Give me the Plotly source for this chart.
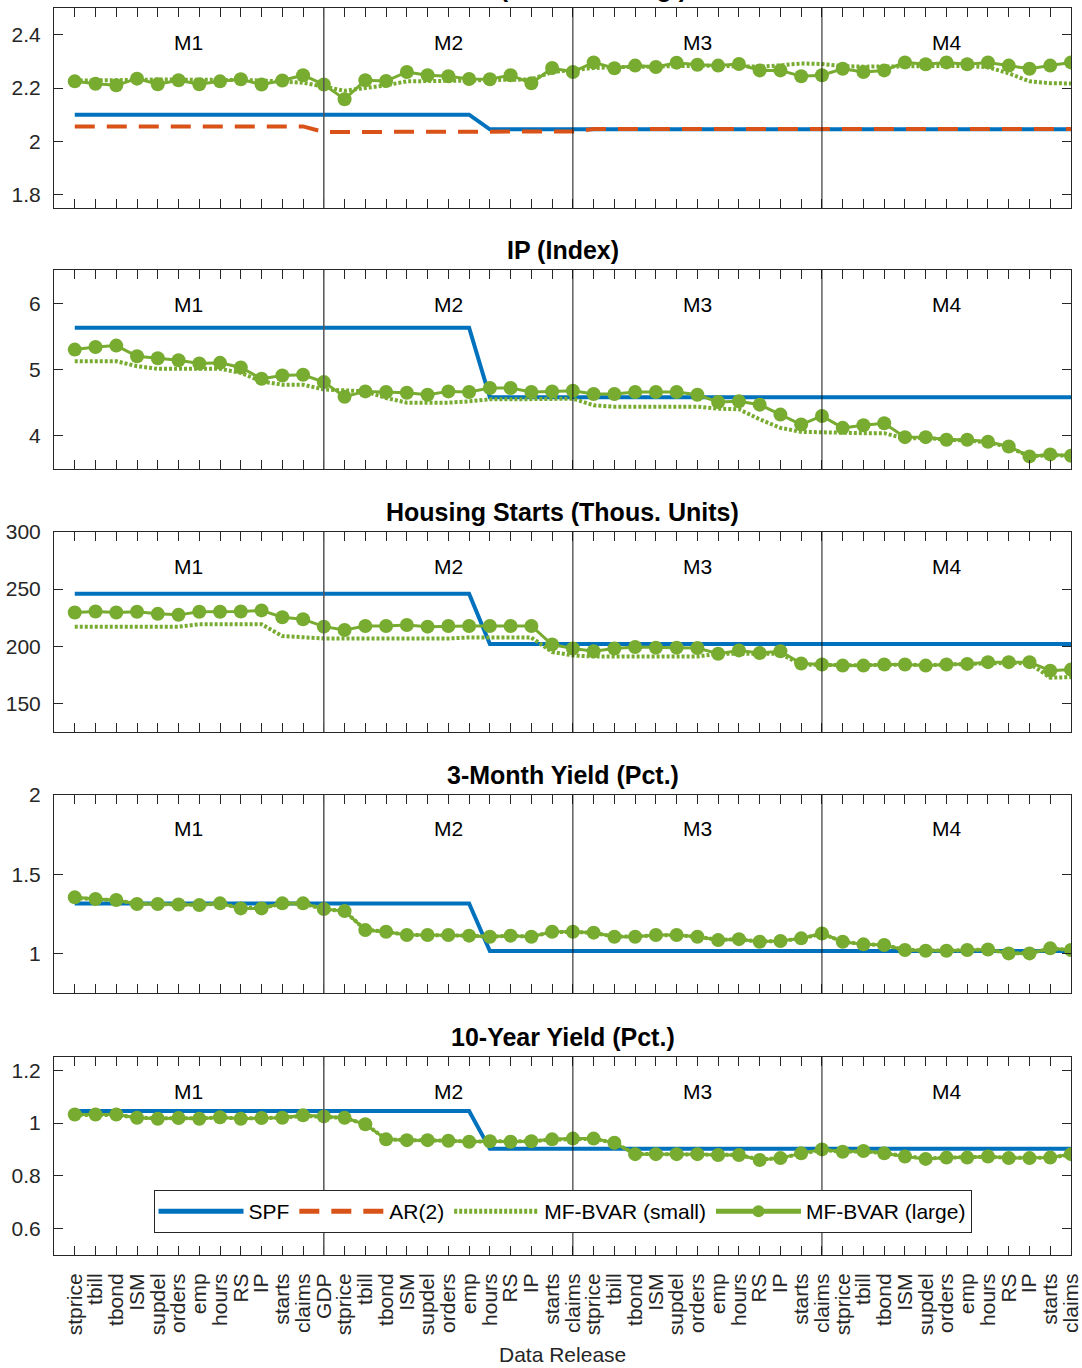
import plotly.graph_objects as go

# ---------------- data ----------------
block = ["stprice", "tbill", "tbond", "ISM", "supdel", "orders", "emp", "hours",
         "RS", "IP", "starts", "claims"]
releases = block + ["GDP"] + block + block + block
x_idx = list(range(len(releases)))

panel_titles = ["GDP (Ann. Pct. Chg.)", "IP (Index)", "Housing Starts (Thous. Units)",
                "3-Month Yield (Pct.)", "10-Year Yield (Pct.)"]
months = ["M1", "M2", "M3", "M4"]

# GDP
gdp_spf = [2.10, 2.10, 2.10, 2.10, 2.10, 2.10, 2.10, 2.10, 2.10, 2.10, 2.10, 2.10,
           2.10, 2.10, 2.10, 2.10, 2.10, 2.10, 2.10, 2.10, 2.045, 2.045, 2.045, 2.045,
           2.045, 2.045, 2.045, 2.045, 2.045, 2.045, 2.045, 2.045, 2.045, 2.045, 2.045, 2.045,
           2.045, 2.045, 2.045, 2.045, 2.045, 2.045, 2.045, 2.045, 2.045, 2.045, 2.045, 2.045, 2.045]
gdp_ar = [2.056, 2.056, 2.056, 2.056, 2.056, 2.056, 2.056, 2.056, 2.056, 2.056, 2.056, 2.056,
          2.035, 2.035, 2.035, 2.035, 2.035, 2.035, 2.035, 2.035, 2.035, 2.035, 2.035, 2.035,
          2.037, 2.046, 2.046, 2.046, 2.046, 2.046, 2.046, 2.046, 2.046, 2.046, 2.046, 2.046,
          2.046, 2.046, 2.046, 2.046, 2.046, 2.046, 2.046, 2.046, 2.046, 2.046, 2.046, 2.046, 2.046]
gdp_small = [2.228, 2.228, 2.228, 2.23, 2.232, 2.232, 2.232, 2.232, 2.23, 2.228, 2.225, 2.22,
             2.205, 2.19, 2.2, 2.21, 2.225, 2.225, 2.225, 2.228, 2.23, 2.232, 2.232, 2.26,
             2.268, 2.275, 2.278, 2.28, 2.282, 2.283, 2.283, 2.283, 2.282, 2.28, 2.285, 2.292,
             2.29, 2.282, 2.28, 2.28, 2.282, 2.283, 2.283, 2.283, 2.278, 2.255, 2.225, 2.218, 2.217]
gdp_large = [2.225, 2.216, 2.21, 2.235, 2.214, 2.229, 2.214, 2.225, 2.233, 2.213, 2.228, 2.248,
             2.213, 2.158, 2.229, 2.226, 2.26, 2.248, 2.244, 2.234, 2.233, 2.248, 2.218, 2.275,
             2.26, 2.296, 2.274, 2.284, 2.279, 2.295, 2.287, 2.284, 2.29, 2.266, 2.266, 2.244,
             2.248, 2.272, 2.26, 2.266, 2.296, 2.289, 2.296, 2.289, 2.296, 2.284, 2.272, 2.284, 2.296]

# IP
ip_spf = [5.63, 5.63, 5.63, 5.63, 5.63, 5.63, 5.63, 5.63, 5.63, 5.63, 5.63, 5.63,
          5.63, 5.63, 5.63, 5.63, 5.63, 5.63, 5.63, 5.63, 4.58, 4.58, 4.58, 4.58,
          4.58, 4.58, 4.58, 4.58, 4.58, 4.58, 4.58, 4.58, 4.58, 4.58, 4.58, 4.58,
          4.58, 4.58, 4.58, 4.58, 4.58, 4.58, 4.58, 4.58, 4.58, 4.58, 4.58, 4.58, 4.58]
ip_small = [5.125, 5.125, 5.125, 5.05, 5.01, 5.01, 5.01, 5.01, 4.95, 4.82, 4.77, 4.77,
            4.70, 4.69, 4.67, 4.57, 4.50, 4.50, 4.50, 4.52, 4.55, 4.55, 4.55, 4.55,
            4.56, 4.46, 4.44, 4.44, 4.44, 4.44, 4.44, 4.41, 4.40, 4.25, 4.12, 4.06,
            4.05, 4.04, 4.04, 4.04, 3.96, 3.97, 3.94, 3.93, 3.90, 3.83, 3.69, 3.71, 3.70]
ip_large = [5.30, 5.34, 5.36, 5.20, 5.17, 5.14, 5.09, 5.10, 5.03, 4.86, 4.91, 4.92,
            4.81, 4.59, 4.67, 4.66, 4.65, 4.62, 4.67, 4.66, 4.72, 4.72, 4.66, 4.67,
            4.68, 4.63, 4.63, 4.66, 4.66, 4.66, 4.62, 4.51, 4.52, 4.47, 4.32, 4.17,
            4.30, 4.12, 4.16, 4.19, 3.98, 3.98, 3.94, 3.94, 3.91, 3.84, 3.69, 3.72, 3.70]

# Housing starts
hs_spf = [246, 246, 246, 246, 246, 246, 246, 246, 246, 246, 246, 246,
          246, 246, 246, 246, 246, 246, 246, 246, 202, 202, 202, 202,
          202, 202, 202, 202, 202, 202, 202, 202, 202, 202, 202, 202,
          202, 202, 202, 202, 202, 202, 202, 202, 202, 202, 202, 202, 202]
hs_small = [217.2, 217.2, 217.2, 217.2, 217.2, 217.2, 219.2, 219.2, 219.2, 219.2, 209.0, 207.7,
            206.8, 206.8, 206.8, 206.8, 206.8, 206.8, 206.8, 207.7, 207.7, 207.7, 207.7, 195.0,
            192.0, 191.0, 191.0, 191.0, 191.0, 191.0, 191.0, 193.5, 193.5, 193.5, 193.5, 184.0,
            183.5, 183.5, 183.5, 184.0, 184.0, 183.5, 184.0, 184.5, 185.5, 185.5, 185.0, 172.5, 173.0]
hs_large = [229.6, 230.5, 229.6, 230.2, 228.4, 227.5, 230.2, 230.2, 230.5, 231.4, 225.4, 223.7,
            217.2, 214.2, 217.8, 217.8, 218.6, 217.2, 217.8, 217.8, 217.8, 217.8, 217.8, 201.5,
            198.0, 195.6, 198.0, 199.4, 198.8, 198.8, 198.5, 193.5, 196.4, 194.1, 195.6, 185.0,
            184.0, 183.1, 183.1, 184.0, 184.0, 183.1, 184.0, 184.6, 186.1, 186.1, 186.1, 178.7, 179.6]

# 3-month yield
tb_spf = [1.315, 1.315, 1.315, 1.315, 1.315, 1.315, 1.315, 1.315, 1.315, 1.315, 1.315, 1.315,
          1.315, 1.315, 1.315, 1.315, 1.315, 1.315, 1.315, 1.315, 1.015, 1.015, 1.015, 1.015,
          1.015, 1.015, 1.015, 1.015, 1.015, 1.015, 1.015, 1.015, 1.015, 1.015, 1.015, 1.015,
          1.015, 1.015, 1.015, 1.015, 1.015, 1.015, 1.015, 1.015, 1.015, 1.015, 1.015, 1.015, 1.015]
tb_small = [1.350, 1.342, 1.335, 1.314, 1.312, 1.309, 1.306, 1.314, 1.288, 1.287, 1.313, 1.314,
            1.281, 1.265, 1.150, 1.137, 1.117, 1.116, 1.116, 1.112, 1.106, 1.111, 1.106, 1.135,
            1.136, 1.130, 1.106, 1.106, 1.115, 1.115, 1.105, 1.086, 1.089, 1.075, 1.078, 1.094,
            1.123, 1.075, 1.058, 1.053, 1.022, 1.018, 1.017, 1.021, 1.024, 1.002, 1.001, 1.030, 1.021]
tb_large = [1.354, 1.343, 1.337, 1.312, 1.312, 1.309, 1.305, 1.316, 1.284, 1.284, 1.316, 1.316,
            1.280, 1.267, 1.147, 1.137, 1.116, 1.116, 1.116, 1.112, 1.105, 1.112, 1.105, 1.137,
            1.137, 1.131, 1.105, 1.105, 1.116, 1.116, 1.105, 1.084, 1.090, 1.074, 1.078, 1.095,
            1.126, 1.074, 1.057, 1.053, 1.021, 1.017, 1.017, 1.021, 1.025, 1.000, 1.000, 1.032, 1.021]

# 10-year yield
tn_spf = [1.045, 1.045, 1.045, 1.045, 1.045, 1.045, 1.045, 1.045, 1.045, 1.045, 1.045, 1.045,
          1.045, 1.045, 1.045, 1.045, 1.045, 1.045, 1.045, 1.045, 0.902, 0.902, 0.902, 0.902,
          0.902, 0.902, 0.902, 0.902, 0.902, 0.902, 0.902, 0.902, 0.902, 0.902, 0.902, 0.902,
          0.902, 0.902, 0.902, 0.902, 0.902, 0.902, 0.902, 0.902, 0.902, 0.902, 0.902, 0.902, 0.902]
tn_small = [1.031, 1.031, 1.030, 1.021, 1.017, 1.019, 1.017, 1.021, 1.017, 1.019, 1.020, 1.027,
            1.024, 1.019, 0.996, 0.939, 0.935, 0.935, 0.933, 0.930, 0.931, 0.930, 0.931, 0.937,
            0.940, 0.940, 0.925, 0.883, 0.882, 0.882, 0.882, 0.879, 0.879, 0.862, 0.867, 0.884,
            0.898, 0.891, 0.893, 0.885, 0.874, 0.865, 0.869, 0.869, 0.872, 0.868, 0.867, 0.869, 0.880]
tn_large = [1.032, 1.032, 1.032, 1.020, 1.016, 1.019, 1.016, 1.022, 1.016, 1.019, 1.020, 1.029,
            1.025, 1.020, 0.995, 0.938, 0.935, 0.935, 0.933, 0.929, 0.931, 0.929, 0.931, 0.938,
            0.941, 0.941, 0.925, 0.882, 0.882, 0.882, 0.882, 0.879, 0.879, 0.860, 0.867, 0.885,
            0.900, 0.891, 0.894, 0.885, 0.873, 0.864, 0.869, 0.869, 0.873, 0.867, 0.867, 0.869, 0.882]

# ---------------- style / layout ----------------
BLUE = "#0072BD"
ORANGE = "#D95319"
GREEN = "#77AC30"
AXC = "#262626"
FONT = "Liberation Sans, Arial, Helvetica, sans-serif"
FS = 21

panels = [
    dict(spf=gdp_spf, ar=gdp_ar, small=gdp_small, large=gdp_large,
         yr=[1.75, 2.5], tv=[1.8, 2.0, 2.2, 2.4], tt=["1.8", "2", "2.2", "2.4"]),
    dict(spf=ip_spf, ar=None, small=ip_small, large=ip_large,
         yr=[3.5, 6.5], tv=[4, 5, 6], tt=["4", "5", "6"]),
    dict(spf=hs_spf, ar=None, small=hs_small, large=hs_large,
         yr=[125, 300], tv=[150, 200, 250, 300], tt=["150", "200", "250", "300"]),
    dict(spf=tb_spf, ar=None, small=tb_small, large=tb_large,
         yr=[0.75, 2.0], tv=[1, 1.5, 2], tt=["1", "1.5", "2"]),
    dict(spf=tn_spf, ar=None, small=tn_small, large=tn_large,
         yr=[0.5, 1.25], tv=[0.6, 0.8, 1.0, 1.2], tt=["0.6", "0.8", "1", "1.2"]),
]

W, H = 1082, 1368
ML, MR, MT, MB = 54, 11, 8, 113
plot_h = H - MT - MB
rows_px = [(8, 208), (270, 469), (532, 732), (795, 993), (1057, 1255)]
domains = [((H - MB - b) / plot_h, (H - MB - t) / plot_h) for t, b in rows_px]
domains = [(max(0.0, d0), min(1.0, d1)) for d0, d1 in domains]

month_x = [5.5, 18, 30, 42]
sep_x = [12, 24, 36]

fig = go.Figure()
layout = dict(
    width=W, height=H,
    margin=dict(l=ML, r=MR, t=MT, b=MB, autoexpand=False),
    paper_bgcolor="white", plot_bgcolor="white",
    font=dict(family=FONT, size=FS, color=AXC),
    showlegend=True,
    legend=dict(orientation="h", x=0.5, xanchor="center",
                y=(H - MB - 1190) / plot_h, yanchor="top",
                bgcolor="white", bordercolor=AXC, borderwidth=1,
                font=dict(family=FONT, size=FS, color="black"),
                itemwidth=85, tracegroupgap=0, itemsizing="constant"),
)
shapes = []
annotations = []

for i, p in enumerate(panels):
    n = "" if i == 0 else str(i + 1)
    xa, ya = "x" + n, "y" + n
    first = (i == 0)
    fig.add_trace(go.Scatter(x=x_idx, y=p["spf"], xaxis=xa, yaxis=ya, mode="lines",
                             line=dict(color=BLUE, width=4), name="SPF",
                             legendgroup="spf", showlegend=first))
    if p["ar"] is not None:
        fig.add_trace(go.Scatter(x=x_idx, y=p["ar"], xaxis=xa, yaxis=ya, mode="lines",
                                 line=dict(color=ORANGE, width=4, dash="20px,12px"),
                                 name="AR(2)", legendgroup="ar", showlegend=first))
    fig.add_trace(go.Scatter(x=x_idx, y=p["small"], xaxis=xa, yaxis=ya, mode="lines",
                             line=dict(color=GREEN, width=4, dash="3px,2px"),
                             name="MF-BVAR (small)", legendgroup="small", showlegend=first))
    fig.add_trace(go.Scatter(x=x_idx, y=p["large"], xaxis=xa, yaxis=ya, mode="lines+markers",
                             line=dict(color=GREEN, width=3),
                             marker=dict(color=GREEN, size=14),
                             name="MF-BVAR (large)", legendgroup="large", showlegend=first))

    last = (i == len(panels) - 1)
    layout["xaxis" + n] = dict(
        domain=[0, 1], anchor=ya, range=[-1, 48], automargin=False,
        tickmode="array", tickvals=x_idx, ticktext=releases,
        showticklabels=last, tickangle=-90, tickfont=dict(size=FS, color=AXC),
        ticklabelstandoff=9,
        showline=True, linecolor=AXC, linewidth=1, mirror="allticks",
        ticks="inside", ticklen=9, tickwidth=1, tickcolor=AXC,
        showgrid=False, zeroline=False,
        **({} if first else dict(matches="x")),
    )
    layout["yaxis" + n] = dict(
        domain=list(domains[i]), anchor=xa, range=p["yr"], automargin=False,
        tickmode="array", tickvals=p["tv"], ticktext=p["tt"],
        tickfont=dict(size=FS, color=AXC), ticklabelstandoff=8,
        showline=True, linecolor=AXC, linewidth=1, mirror="allticks",
        ticks="inside", ticklen=9, tickwidth=1, tickcolor=AXC,
        showgrid=False, zeroline=False,
    )
    for k, sx in enumerate(sep_x):
        shapes.append(dict(type="line", xref=xa, yref=ya + " domain", x0=sx, x1=sx,
                           y0=0, y1=1, layer="above",
                           line=dict(color="#555555" if k == 0 else "#111111",
                                     width=1.5 if k == 0 else 1)))
    for m, mx in zip(months, month_x):
        annotations.append(dict(text=m, xref=xa, yref=ya + " domain", x=mx, y=1,
                                yshift=-34, yanchor="middle", xanchor="center",
                                showarrow=False, font=dict(size=FS, color="black")))
    annotations.append(dict(text="<b>" + panel_titles[i] + "</b>", xref="paper", yref="paper",
                            x=0.5, y=domains[i][1], xanchor="center", yanchor="bottom",
                            yshift=4, showarrow=False,
                            font=dict(size=25, color="black")))

annotations.append(dict(text="Data Release", xref="paper", yref="paper", x=0.5,
                        y=(H - MB - 1354) / plot_h, xanchor="center", yanchor="middle",
                        showarrow=False, font=dict(size=FS, color=AXC)))

layout["shapes"] = shapes
layout["annotations"] = annotations
fig.update_layout(**layout)
fig.write_html("out.html", config={"displayModeBar": False},
               post_script="document.body.style.margin='0';document.body.style.padding='0';")
